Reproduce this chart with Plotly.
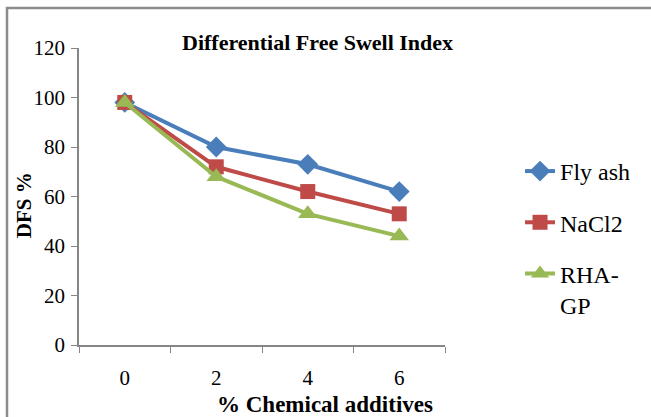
import plotly.graph_objects as go

categories = ["0", "2", "4", "6"]
fly_ash = [98, 80, 73, 62]
nacl2 = [98, 72, 62, 53]
rha_gp = [98, 68, 53, 44]
y_ticks = [0, 20, 40, 60, 80, 100, 120]

FONT = "Liberation Serif"

fig = go.Figure()
fig.add_trace(go.Scatter(x=categories, y=fly_ash, name="Fly ash", mode="lines+markers",
                         line=dict(color="#4A7EBB", width=4),
                         marker=dict(symbol="diamond", size=16, color="#4A7EBB"),
                         legendgroup="a"))
fig.add_trace(go.Scatter(x=categories, y=nacl2, name="NaCl2", mode="lines+markers",
                         line=dict(color="#BE4B48", width=4),
                         marker=dict(symbol="square", size=15, color="#BE4B48"),
                         legendgroup="b"))
fig.add_trace(go.Scatter(x=categories, y=rha_gp, name="RHA-<br>GP", mode="lines+markers",
                         line=dict(color="#98B954", width=4),
                         marker=dict(symbol="triangle-up", size=17, color="#98B954"),
                         legendgroup="c"))

fig.update_layout(
    width=651, height=417,
    margin=dict(l=79, r=206, t=48, b=72),
    paper_bgcolor="white", plot_bgcolor="white",
    font=dict(family=FONT, color="black", size=21),
    showlegend=True,
    legend=dict(x=1.205, y=0.66, xanchor="left", yanchor="top",
                font=dict(size=24, family=FONT, color="black"), traceorder="grouped",
                tracegroupgap=17, valign="top", bgcolor="rgba(0,0,0,0)"),
    xaxis=dict(type="category", showgrid=False, showline=True, linecolor="#868686", linewidth=1.5,
               ticks="outside", tickson="boundaries", ticklen=6, tickcolor="#868686",
               ticklabelstandoff=13, tickfont=dict(size=21, family=FONT),
               range=[-0.5, 3.5]),
    yaxis=dict(range=[0, 120], tickvals=y_ticks, showgrid=False, showline=True,
               linecolor="#868686", linewidth=1.5, ticks="outside", ticklen=6,
               tickcolor="#868686", ticklabelstandoff=2, tickfont=dict(size=21, family=FONT),
               zeroline=False),
)

fig.add_annotation(text="<b>Differential Free Swell Index</b>", xref="paper", yref="paper",
                   x=0.653, y=1.02, xanchor="center", yanchor="middle", showarrow=False,
                   font=dict(size=22, family=FONT, color="black"))
fig.add_annotation(text="<b>% Chemical additives</b>", xref="paper", yref="paper",
                   x=0.672, y=-0.202, xanchor="center", yanchor="middle", showarrow=False,
                   font=dict(size=23, family=FONT, color="black"))
fig.add_annotation(text="<b>DFS %</b>", xref="paper", yref="paper", textangle=-90,
                   x=-0.148, y=0.47, xanchor="center", yanchor="middle", showarrow=False,
                   font=dict(size=21, family=FONT, color="black"))

fig.add_shape(type="rect", xref="paper", yref="paper", x0=-0.1967, y0=-0.6, x1=2.0, y1=1.1347,
              line=dict(color="#8C8C8C", width=2.5), fillcolor="rgba(0,0,0,0)", layer="below")

fig.write_html("out.html")
